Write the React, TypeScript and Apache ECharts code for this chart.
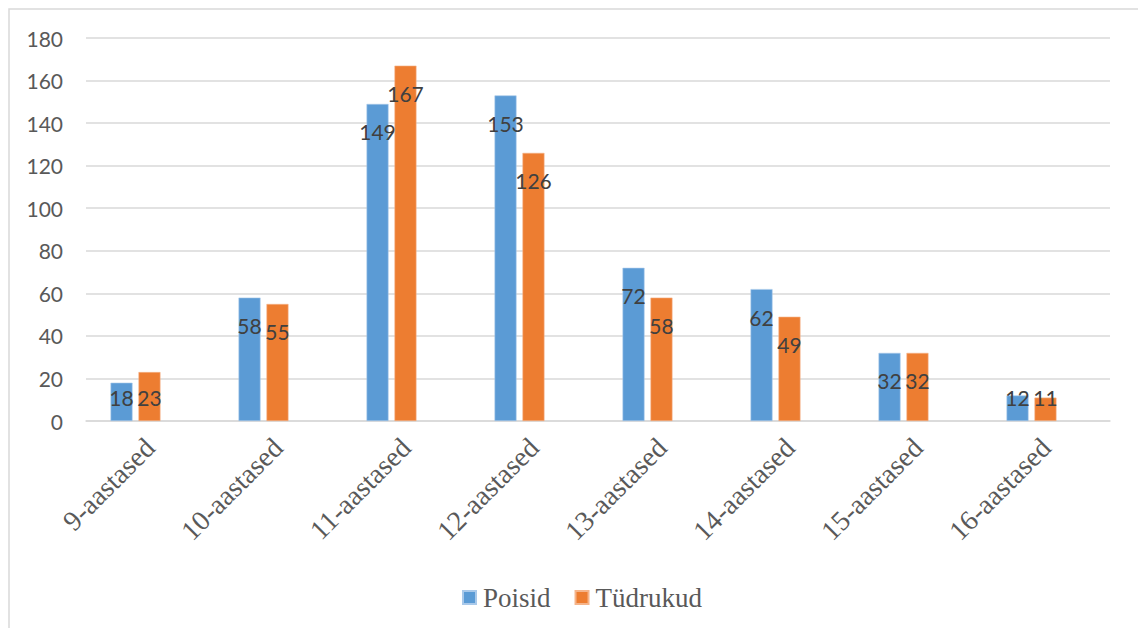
import React, { useEffect, useRef } from "react";
import * as echarts from "echarts";

const categories = ["9-aastased", "10-aastased", "11-aastased", "12-aastased", "13-aastased", "14-aastased", "15-aastased", "16-aastased"];
const poisid = [18, 58, 149, 153, 72, 62, 32, 12];
const tudrukud = [23, 55, 167, 126, 58, 49, 32, 11];
const seriesNames = ["Poisid", "Tüdrukud"];
const yTicks = { min: 0, max: 180, interval: 20 };

const BLUE = "#5B9BD5";
const ORANGE = "#ED7D31";
const SANS = "Lato";
const SERIF_A = '"Liberation Serif", "DejaVu Serif", serif';
const SERIF_B = "Liberation Serif, DejaVu Serif, serif";

function buildData(values: number[]) {
  return values.map((v) => {
    const small = v < 25;
    return {
      value: v,
      label: small
        ? { position: "insideBottom", distance: 13 }
        : { position: "insideTop", distance: 17 },
    };
  });
}

export default function App() {
  const ref = useRef<HTMLDivElement>(null);
  useEffect(() => {
    if (!ref.current) return;
    const chart = echarts.init(ref.current, undefined, { renderer: "svg" });
    const labelStyle = {
      show: true,
      color: "#404040",
      fontFamily: SANS,
      fontSize: 21,
      lineHeight: 22,
    };
    chart.setOption({
      animation: false,
      backgroundColor: "#ffffff",
      graphic: [
        {
          type: "rect",
          shape: { x: 9, y: 9, width: 1200, height: 700 },
          style: { fill: "none", stroke: "#d9d9d9", lineWidth: 1.5 },
          silent: true,
          z: -10,
        },
      ],
      legend: {
        data: seriesNames,
        left: 457,
        top: 579,
        icon: "rect",
        itemWidth: 13,
        itemHeight: 13,
        itemGap: 24,
        textStyle: {
          fontFamily: SERIF_A,
          fontSize: 27,
          color: "#595959",
          lineHeight: 26,
          padding: [0, 0, 0, 2],
        },
      },
      grid: [
        { left: 86, right: 28, top: 38, bottom: 207, containLabel: false },
        { left: 71.5, right: 42.5, top: 38, bottom: 207, containLabel: false },
      ],
      xAxis: [
        {
          type: "category",
          gridIndex: 0,
          data: categories,
          boundaryGap: true,
          axisLine: { show: true, lineStyle: { color: "#d9d9d9", width: 1.5 } },
          axisTick: { show: false },
          axisLabel: {
            rotate: 45,
            margin: 22,
            fontFamily: SERIF_B,
            fontSize: 28,
            color: "#595959",
            interval: 0,
          },
        },
        {
          type: "category",
          gridIndex: 1,
          data: categories,
          boundaryGap: true,
          show: false,
        },
      ],
      yAxis: [
        {
          type: "value",
          gridIndex: 0,
          min: yTicks.min,
          max: yTicks.max,
          interval: yTicks.interval,
          axisLine: { show: false },
          axisTick: { show: false },
          axisLabel: {
            margin: 23,
            fontFamily: SANS,
            fontSize: 21,
            color: "#595959",
          },
          splitLine: { lineStyle: { color: "#d9d9d9", width: 1.5 } },
        },
        {
          type: "value",
          gridIndex: 1,
          min: yTicks.min,
          max: yTicks.max,
          interval: yTicks.interval,
          show: false,
          splitLine: { show: false },
        },
      ],
      series: [
        {
          name: seriesNames[0],
          type: "bar",
          xAxisIndex: 1,
          yAxisIndex: 1,
          data: buildData(poisid),
          barWidth: 22,
          barGap: "27%",
          itemStyle: { color: BLUE, borderColor: "#a9c9ea", borderWidth: 0.6 },
          label: labelStyle,
          z: 3,
        },
        {
          name: seriesNames[1],
          type: "bar",
          xAxisIndex: 1,
          yAxisIndex: 1,
          data: buildData(tudrukud),
          barWidth: 22,
          barGap: "27%",
          itemStyle: { color: ORANGE, borderColor: "#f5b48a", borderWidth: 0.6 },
          label: labelStyle,
          z: 3,
        },
      ],
    });
    return () => chart.dispose();
  }, []);
  return (
    <div
      ref={ref}
      style={{ position: "fixed", left: 0, top: 0, width: 1138, height: 628, background: "#fff" }}
    />
  );
}
